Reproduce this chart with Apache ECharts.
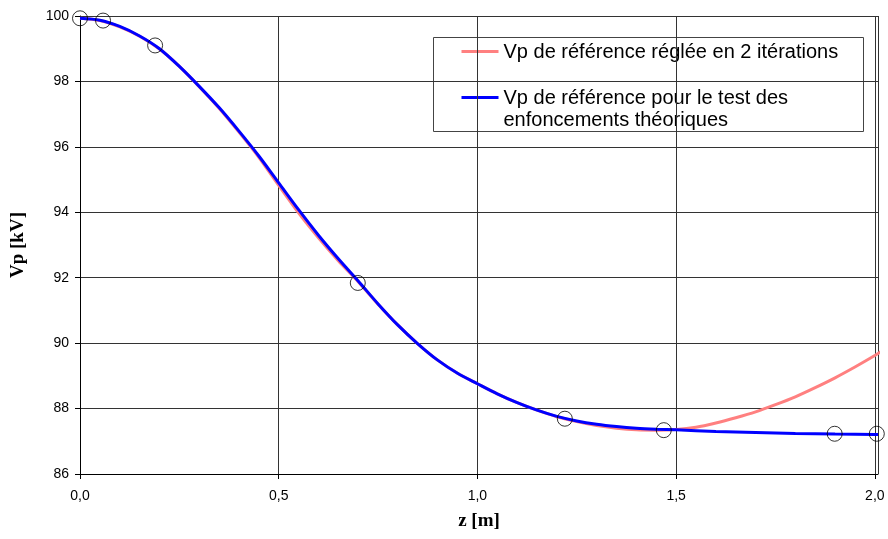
<!DOCTYPE html>
<html>
<head>
<meta charset="utf-8">
<script src="https://cdn.jsdelivr.net/npm/echarts@6/dist/echarts.min.js"></script>
<style>
  html, body { margin: 0; padding: 0; background: #fff; }
  #chart { width: 888px; height: 539px; }
</style>
</head>
<body>
<div id="chart"></div>
<script>
// Depth z [m] and reference voltage Vp [kV]
const seriesNames = [
  'Vp de référence réglée en 2 itérations',
  'Vp de référence pour le test des enfoncements théoriques'
];

// Curve tuned after 2 iterations
const zAdjusted = [0.00, 0.05, 0.10, 0.15, 0.20, 0.25, 0.30, 0.35, 0.40, 0.45, 0.50, 0.55, 0.60, 0.65, 0.70, 0.75, 0.80, 0.85, 0.90, 0.95, 1.00, 1.05, 1.10, 1.15, 1.20, 1.25, 1.30, 1.35, 1.40, 1.45, 1.50, 1.55, 1.60, 1.65, 1.70, 1.75, 1.80, 1.85, 1.90, 1.95, 2.00, 2.022];
const vpAdjusted = [99.93, 99.86, 99.67, 99.38, 98.99, 98.46, 97.84, 97.18, 96.45, 95.68, 94.82, 93.98, 93.22, 92.52, 91.88, 91.19, 90.55, 89.98, 89.48, 89.08, 88.76, 88.45, 88.18, 87.95, 87.75, 87.60, 87.48, 87.40, 87.35, 87.34, 87.36, 87.43, 87.56, 87.72, 87.90, 88.12, 88.36, 88.64, 88.94, 89.27, 89.62, 89.79];

// Curve for the theoretical sag test
const zTest = [0.00, 0.05, 0.10, 0.15, 0.20, 0.25, 0.30, 0.35, 0.40, 0.45, 0.50, 0.55, 0.60, 0.65, 0.70, 0.75, 0.80, 0.85, 0.90, 0.95, 1.00, 1.05, 1.10, 1.15, 1.20, 1.25, 1.30, 1.35, 1.40, 1.45, 1.50, 1.60, 1.70, 1.80, 1.90, 2.00, 2.008];
const vpTest = [99.93, 99.87, 99.68, 99.39, 99.00, 98.46, 97.85, 97.20, 96.48, 95.72, 94.90, 94.08, 93.30, 92.58, 91.90, 91.20, 90.55, 89.98, 89.48, 89.08, 88.76, 88.45, 88.18, 87.95, 87.76, 87.62, 87.52, 87.45, 87.40, 87.37, 87.35, 87.30, 87.27, 87.24, 87.22, 87.21, 87.21];

// Measured points
const zPoints = [0.00, 0.058, 0.189, 0.699, 1.220, 1.469, 1.899, 2.005];
const vpPoints = [99.93, 99.86, 99.10, 91.84, 87.69, 87.34, 87.23, 87.23];

// Axis ticks
const xTicks = { min: 0, max: 2.008, step: 0.5 };
const yTicks = { min: 86, max: 100, step: 2 };

const zip = (xs, ys) => xs.map((x, i) => [x, ys[i]]);

const sansFont = '"Liberation Sans", Arial, sans-serif';
const serifFont = '"Liberation Serif", "Times New Roman", serif';

const chart = echarts.init(document.getElementById('chart'), null, { renderer: 'canvas' });

chart.setOption({
  animation: false,
  backgroundColor: '#ffffff',
  grid: { left: 80, right: 10, top: 16, bottom: 65, containLabel: false },
  xAxis: {
    type: 'value',
    min: xTicks.min,
    max: xTicks.max,
    interval: xTicks.step,
    name: 'z [m]',
    nameLocation: 'middle',
    nameGap: 38,
    nameTextStyle: { fontFamily: serifFont, fontWeight: 'bold', fontSize: 19, color: '#000' },
    axisLine: { show: true, onZero: false, lineStyle: { color: '#000', width: 1 } },
    axisTick: { show: true, inside: false, length: 5, lineStyle: { color: '#000' } },
    axisLabel: {
      showMaxLabel: false,
      margin: 15,
      fontFamily: sansFont,
      fontSize: 14,
      color: '#000',
      formatter: v => v.toFixed(1).replace('.', ',')
    },
    splitLine: { show: true, lineStyle: { color: '#333', width: 1 } }
  },
  yAxis: {
    type: 'value',
    min: yTicks.min,
    max: yTicks.max,
    interval: yTicks.step,
    name: 'Vp [kV]',
    nameLocation: 'middle',
    nameGap: 52,
    nameTextStyle: { fontFamily: serifFont, fontWeight: 'bold', fontSize: 19, color: '#000' },
    axisLine: { show: true, onZero: false, lineStyle: { color: '#000', width: 1 } },
    axisTick: { show: true, inside: false, length: 5, lineStyle: { color: '#000' } },
    axisLabel: { margin: 11, fontFamily: sansFont, fontSize: 14, color: '#000' },
    splitLine: { show: true, lineStyle: { color: '#333', width: 1 } }
  },
  series: [
    {
      name: seriesNames[0],
      type: 'line',
      data: zip(zAdjusted, vpAdjusted),
      smooth: 0.3,
      showSymbol: false,
      clip: false,
      lineStyle: { color: '#ff8080', width: 3 },
      z: 2
    },
    {
      name: seriesNames[1],
      type: 'line',
      data: zip(zTest, vpTest),
      smooth: 0.3,
      showSymbol: false,
      lineStyle: { color: '#0000ff', width: 3 },
      z: 3
    },
    {
      name: 'points',
      type: 'scatter',
      data: zip(zPoints, vpPoints),
      symbol: 'circle',
      symbolSize: 15,
      clip: false,
      itemStyle: { color: 'rgba(0,0,0,0)', borderColor: '#000', borderWidth: 1 },
      z: 4
    }
  ],
  graphic: [
    {
      type: 'group',
      left: 433,
      top: 37,
      z: 10,
      children: [
        { type: 'rect', shape: { x: 0, y: 0, width: 430, height: 94 },
          style: { fill: '#fff', stroke: '#444', lineWidth: 1 } },
        { type: 'line', shape: { x1: 28, y1: 14, x2: 65, y2: 14 },
          style: { stroke: '#ff8080', lineWidth: 3 } },
        { type: 'text', x: 70, y: 15,
          style: { text: seriesNames[0], fontFamily: sansFont, fontSize: 20, fill: '#000', verticalAlign: 'middle' } },
        { type: 'line', shape: { x1: 28, y1: 60, x2: 65, y2: 60 },
          style: { stroke: '#0000ff', lineWidth: 3 } },
        { type: 'text', x: 70, y: 50,
          style: { text: 'Vp de référence pour le test des\nenfoncements théoriques', fontFamily: sansFont, fontSize: 20, lineHeight: 22, fill: '#000', verticalAlign: 'top' } }
      ]
    }
  ]
});
</script>
</body>
</html>
